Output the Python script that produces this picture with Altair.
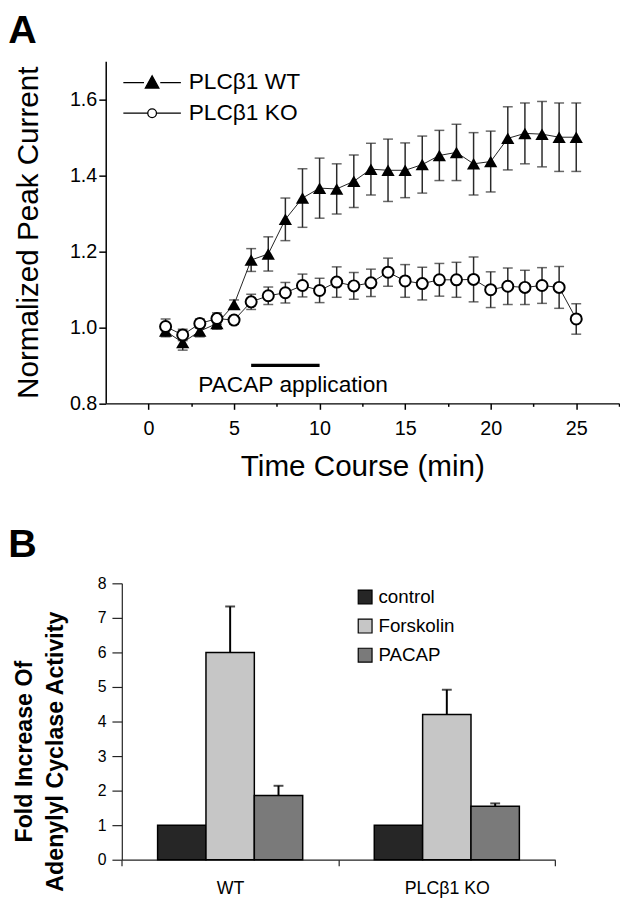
import altair as alt
import pandas as pd

FONT = "Liberation Sans"

# ---------------- Panel A data ----------------
time_min = list(range(1, 26))
wt_mean = [0.99, 0.96, 0.99, 1.01, 1.06, 1.177, 1.193, 1.284, 1.34, 1.366,
           1.364, 1.384, 1.416, 1.413, 1.413, 1.428, 1.452, 1.460, 1.430, 1.436,
           1.497, 1.510, 1.508, 1.500, 1.500]
wt_sem = [0.015, 0.02, 0.015, 0.015, 0.012, 0.03, 0.045, 0.056, 0.077, 0.079,
          0.066, 0.069, 0.068, 0.082, 0.072, 0.075, 0.066, 0.074, 0.082, 0.08,
          0.083, 0.08, 0.086, 0.09, 0.09]
ko_mean = [1.002, 0.980, 1.010, 1.023, 1.019, 1.067, 1.083, 1.091, 1.110, 1.097,
           1.119, 1.109, 1.117, 1.145, 1.122, 1.115, 1.125, 1.125, 1.126, 1.099,
           1.108, 1.105, 1.110, 1.105, 1.022]
ko_sem = [0.02, 0.015, 0.012, 0.015, 0.01, 0.02, 0.023, 0.027, 0.03, 0.032,
          0.04, 0.035, 0.036, 0.037, 0.043, 0.043, 0.043, 0.046, 0.059, 0.047,
          0.048, 0.045, 0.047, 0.055, 0.04]
groups_a = ["PLCβ1 WT", "PLCβ1 KO"]

pacap_window = [6, 10]
pacap_level = [0.9]
pacap_label = ["PACAP application"]
pacap_label_pos = [8.45, 0.83]

x_ticks = [0, 2.5, 5, 7.5, 10, 12.5, 15, 17.5, 20, 22.5, 25, 27.5]
y_ticks = [0.8, 0.9, 1.0, 1.1, 1.2, 1.3, 1.4, 1.5, 1.6, 1.7]

# ---------------- Panel B data ----------------
genotypes = ["WT", "PLCβ1 KO"]
treatments = ["control", "Forskolin", "PACAP"]
fold_wt = [1.0, 6.0, 1.86]
fold_ko = [1.0, 4.2, 1.55]
err_wt = [0.0, 1.33, 0.28]
err_ko = [0.0, 0.72, 0.08]
bar_colors = ["#262626", "#c6c6c6", "#7a7a7a"]
yB_ticks = [0, 1, 2, 3, 4, 5, 6, 7, 8]

# ---------------- frames ----------------
rows = []
for g, means, sems in [(groups_a[0], wt_mean, wt_sem), (groups_a[1], ko_mean, ko_sem)]:
    for t, m, s in zip(time_min, means, sems):
        rows.append({"time": t, "group": g, "mean": m, "lo": m - s, "hi": m + s})
dfa = pd.DataFrame(rows)

df_bar = pd.DataFrame({"start": [pacap_window[0]], "end": [pacap_window[1]], "level": pacap_level})
df_lab = pd.DataFrame({"x": [pacap_label_pos[0]], "y": [pacap_label_pos[1]], "label": pacap_label})

rowsb = []
for gname, vals, errs in [(genotypes[0], fold_wt, err_wt), (genotypes[1], fold_ko, err_ko)]:
    for tr, v, e in zip(treatments, vals, errs):
        rowsb.append({"genotype": gname, "treatment": tr, "value": v, "err": e, "top": v + e})
dfb = pd.DataFrame(rowsb)

# ---------------- Panel A ----------------
WA, HA = 520, 346.7

xA = alt.X("time:Q",
           scale=alt.Scale(domain=[-2.5, 27.5], nice=False, zero=False),
           axis=alt.Axis(values=x_ticks,
                         labelExpr="datum.value % 5 === 0 ? format(datum.value, 'd') : ''",
                         tickSize={"condition": {"test": "datum.value % 5 === 0", "value": 6}, "value": 3},
                         title="Time Course (min)", titleFontSize=30, titleFontWeight="normal",
                         titlePadding=13, labelFontSize=20, labelPadding=10, grid=False,
                         domainColor="black", tickColor="black", domainWidth=1.5, tickWidth=1.5,
                         labelColor="black", titleColor="black", labelFlush=False))
yA = alt.Y("mean:Q",
           scale=alt.Scale(domain=[0.8, 1.7], nice=False, zero=False),
           axis=alt.Axis(values=y_ticks,
                         labelExpr="round(datum.value * 10) % 2 === 0 ? format(datum.value, '.1f') : ''",
                         tickSize={"condition": {"test": "round(datum.value * 10) % 2 === 0", "value": 7}, "value": 4},
                         title="Normalized Peak Current", titleFontSize=30, titleFontWeight="normal",
                         titlePadding=26, labelFontSize=20, labelPadding=2, grid=False,
                         domainColor="black", tickColor="black", domainWidth=1.5, tickWidth=1.5,
                         labelColor="black", titleColor="black", labelFlush=False))

ERR_COL = "#2a2a2a"
base = alt.Chart(dfa)
lines = base.mark_line(color="#222222", strokeWidth=1).encode(x=xA, y=yA, detail="group:N")
errs = base.mark_rule(color=ERR_COL, strokeWidth=1.5).encode(x="time:Q", y="lo:Q", y2="hi:Q")
cap_hi = base.mark_tick(orient="horizontal", size=10, thickness=1.5, color=ERR_COL).encode(x="time:Q", y="hi:Q")
cap_lo = base.mark_tick(orient="horizontal", size=10, thickness=1.5, color=ERR_COL).encode(x="time:Q", y="lo:Q")
wt_pts = base.transform_filter(alt.datum.group == groups_a[0]).mark_point(
    shape="triangle-up", filled=True, color="black", size=180, opacity=1).encode(x="time:Q", y="mean:Q")
ko_pts = base.transform_filter(alt.datum.group == groups_a[1]).mark_point(
    shape="circle", filled=False, fill="white", stroke="black", strokeWidth=2, size=125, opacity=1
).encode(x="time:Q", y="mean:Q")

wt_path = "M-2.65,0H-0.75M0.75,0H2.65M-0.62,0.5L0,-0.62L0.62,0.5Z"
ko_path = "M-2.65,0H-0.4M0.4,0H2.65M0.4,0A0.4,0.4 0 1,1 -0.4,0A0.4,0.4 0 1,1 0.4,0Z"
leg_a = alt.Legend(orient="none", legendX=35, legendY=9.7, title=None, labelFont=FONT,
                   labelFontSize=23, labelColor="black", symbolSize=484, symbolStrokeWidth=1.3,
                   symbolStrokeColor="black", labelOffset=25, rowPadding=7, padding=0,
                   labelLimit=300, symbolOpacity=1)
legend_layer = base.transform_filter("datum.time < 0").mark_point(opacity=1).encode(
    x="time:Q", y="mean:Q",
    shape=alt.Shape("group:N", scale=alt.Scale(domain=groups_a, range=[wt_path, ko_path]), legend=leg_a),
    fill=alt.Fill("group:N", scale=alt.Scale(domain=groups_a, range=["black", "white"]), legend=leg_a),
    stroke=alt.Stroke("group:N", scale=alt.Scale(domain=groups_a, range=["black", "black"]), legend=leg_a),
)

pac_bar = alt.Chart(df_bar).mark_rule(color="black", strokeWidth=3.5).encode(
    x="start:Q", x2="end:Q", y="level:Q")
pac_txt = alt.Chart(df_lab).mark_text(fontSize=23, align="center", baseline="alphabetic",
                                      color="black", font=FONT).encode(x="x:Q", y="y:Q", text="label:N")

panelA = alt.layer(lines, errs, cap_hi, cap_lo, wt_pts, ko_pts, legend_layer, pac_bar, pac_txt).properties(
    width=WA, height=HA,
    title=alt.TitleParams("A", anchor="start", frame="group", fontSize=40, fontWeight="bold",
                          font=FONT, color="black", dx=-98.7, dy=51.4, baseline="alphabetic", offset=30),
)

# ---------------- Panel B ----------------
WB, HB = 455.3, 280
shiftB = 16.3

xB_axis = alt.Axis(title=None, labelAngle=0, labelFontSize=18, labelPadding=14,
                   tickBand="extent", tickSize=6, domainColor="#222222", tickColor="#222222",
                   labelColor="black", domainWidth=1.2, tickWidth=1.2)
xB = alt.X("genotype:N", sort=genotypes,
           scale=alt.Scale(range=[shiftB, WB], paddingInner=0, paddingOuter=0), axis=xB_axis)
xoB = alt.XOffset("treatment:N", sort=treatments, scale=alt.Scale(paddingOuter=0.74, paddingInner=0))
yB_axis = alt.Axis(values=yB_ticks, tickCount=9, offset=-shiftB, labelOverlap=False,
                   format="d", title=["Fold Increase Of", "Adenylyl Cyclase Activity"],
                   titleFontSize=23.5, titleFontWeight="bold", titleLineHeight=32,
                   titlePadding=30, titleY=170, labelFontSize=16, labelPadding=6,
                   tickSize=10, grid=False, domainColor="#222222", tickColor="#222222",
                   labelColor="black", titleColor="black", domainWidth=1.2, tickWidth=1.2)
yB_scale = alt.Scale(domain=[0, 8], nice=False)
# legend offsets are relative to the first panel's plot origin (legends live at top level)
leg_b = alt.Legend(orient="none", legendX=253.3, legendY=533.3, title=None, labelFont=FONT,
                   labelFontSize=19, labelColor="black", symbolType="square", symbolSize=196,
                   symbolStrokeColor="black", symbolStrokeWidth=1.2, labelOffset=4,
                   rowPadding=9.5, padding=0)

bars = alt.Chart(dfb).mark_bar(stroke="black", strokeWidth=1.5).encode(
    x=xB, xOffset=xoB, y=alt.Y("value:Q", scale=yB_scale, axis=yB_axis),
    color=alt.Color("treatment:N", scale=alt.Scale(domain=treatments, range=bar_colors), legend=leg_b),
)
errb = alt.Chart(dfb).transform_filter("datum.err > 0").mark_rule(color="black", strokeWidth=2).encode(
    x=xB, xOffset=xoB,
    y=alt.Y("value:Q", scale=yB_scale, axis=yB_axis), y2="top:Q")
capb = alt.Chart(dfb).transform_filter("datum.err > 0").mark_tick(
    orient="horizontal", size=10, thickness=2, color="black").encode(
    x=xB, xOffset=xoB, y=alt.Y("top:Q", scale=yB_scale, axis=yB_axis))

panelB = alt.layer(bars, errb, capb).properties(
    width=WB, height=HB,
    title=alt.TitleParams("B", anchor="start", frame="group", fontSize=40, fontWeight="bold",
                          font=FONT, color="black", dx=-98.7, dy=45, baseline="alphabetic", offset=24),
)

chart = alt.vconcat(panelA, panelB, spacing=44).properties(
    padding={"top": -3, "left": 0, "right": 0, "bottom": 0}
).configure(font=FONT).configure_view(stroke=None).configure_axis(labelFont=FONT, titleFont=FONT)

chart.save("out.html", embed_options={"renderer": "svg", "actions": False})
